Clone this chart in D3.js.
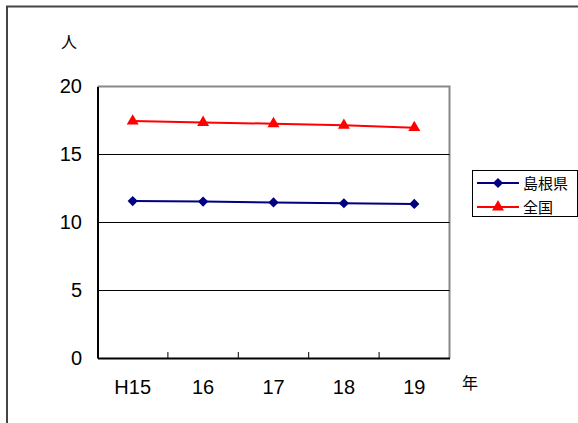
<!DOCTYPE html>
<html><head><meta charset="utf-8">
<script src="https://cdn.jsdelivr.net/npm/d3@7"></script>
<style>body{margin:0;background:#fff;}svg{display:block;}</style>
</head><body>
<svg id="c" width="578" height="423"></svg>
<script>
const categories = ["H15","16","17","18","19"];
const shimane = [11.56, 11.52, 11.46, 11.40, 11.35];
const zenkoku = [17.45, 17.35, 17.26, 17.14, 16.97];
const yTicks = [0,5,10,15,20];
const seriesNames = ["島根県","全国"];

const svg = d3.select("#c");
const jp = "'Noto Sans CJK JP', sans-serif";
const num = "'Liberation Sans', Arial, sans-serif";

// outer frame
svg.append("path").attr("d","M7,430 L7,6.5 L590,6.5").attr("fill","none").attr("stroke","#444").attr("stroke-width",2);

const L=97.5, R=449.5, T=86.5, B=358;
const x = d3.scaleBand().domain(categories).range([L,R]);
const y = d3.scaleLinear().domain([0,20]).range([B,T]);

// plot border top/right gray
svg.append("path").attr("d",`M${L},${T} L${R},${T} L${R},${B}`).attr("fill","none").attr("stroke","#888").attr("stroke-width",2);
// gridlines
svg.selectAll(".g").data([5,10,15]).enter().append("line")
  .attr("x1",L).attr("x2",R).attr("y1",d=>Math.round(y(d))+0.5).attr("y2",d=>Math.round(y(d))+0.5)
  .attr("stroke","#000").attr("stroke-width",1);

// axes
const yAxis = d3.axisLeft(y).tickValues(yTicks).tickSize(0).tickPadding(15.5);
const gy = svg.append("g").attr("transform",`translate(${L},0)`).call(yAxis);
gy.select(".domain").attr("stroke","#000").attr("stroke-width",2);
gy.selectAll("text").attr("font-family",num).attr("font-size",20).attr("fill","#000");

const xAxis = d3.axisBottom(x).tickSize(0).tickPadding(22);
const gx = svg.append("g").attr("transform",`translate(0,${B})`).call(xAxis);
gx.select(".domain").attr("stroke","#000").attr("stroke-width",2);
gx.selectAll("text").attr("font-family",num).attr("font-size",20).attr("fill","#000");
// ticks between categories
svg.selectAll(".xt").data(categories.slice(1)).enter().append("line")
  .attr("x1",d=>x(d)).attr("x2",d=>x(d)).attr("y1",B).attr("y2",B-6)
  .attr("stroke","#000").attr("stroke-width",1);

// axis unit labels
svg.append("text").attr("x",69).attr("y",48).attr("text-anchor","middle").attr("font-family",jp).attr("font-size",16).text("人");
svg.append("text").attr("x",470).attr("y",389).attr("text-anchor","middle").attr("font-family",jp).attr("font-size",16).text("年");

const cx = d => x(d)+x.bandwidth()/2;
const line = d3.line().x((d,i)=>cx(categories[i])).y(d=>y(d));
const diamond = d3.symbol().type(d3.symbolSquare).size(52);
const tri = d3.symbol().type(d3.symbolTriangle).size(62);

function drawSeries(vals,color,sym,rot){
  svg.append("path").datum(vals).attr("d",line).attr("fill","none").attr("stroke",color).attr("stroke-width",2);
  svg.selectAll(null).data(vals).enter().append("path")
    .attr("d",sym).attr("transform",(d,i)=>`translate(${cx(categories[i])},${y(d)}) rotate(${rot})`).attr("fill",color);
}
drawSeries(shimane,"#000080",diamond,45);
drawSeries(zenkoku,"#ff0000",tri,0);

// legend
const lg = svg.append("g");
lg.append("rect").attr("x",472.5).attr("y",170.5).attr("width",105).attr("height",46).attr("fill","#fff").attr("stroke","#000").attr("stroke-width",1);
const items=[{n:seriesNames[0],c:"#000080",s:diamond,r:45,y:183},{n:seriesNames[1],c:"#ff0000",s:tri,r:0,y:207}];
items.forEach(it=>{
  lg.append("line").attr("x1",477).attr("x2",519).attr("y1",it.y).attr("y2",it.y).attr("stroke",it.c).attr("stroke-width",2);
  lg.append("path").attr("d",it.s).attr("transform",`translate(498,${it.y}) rotate(${it.r})`).attr("fill",it.c);
  lg.append("text").attr("x",523).attr("y",it.y+5.5).attr("font-family",jp).attr("font-size",15).text(it.n);
});
</script>
</body></html>
